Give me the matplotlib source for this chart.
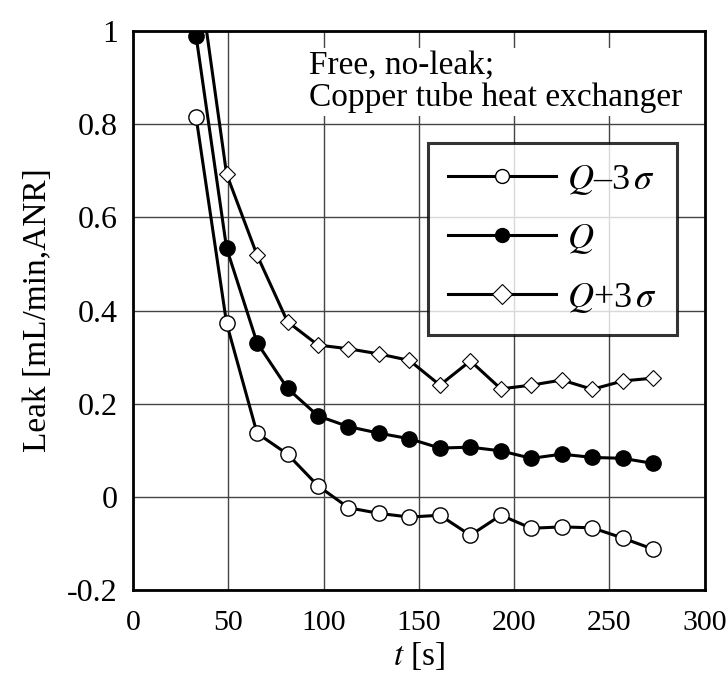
import numpy as np
import matplotlib
matplotlib.use('Agg')
from matplotlib import pyplot as plt

plt.rcParams['font.family'] = ['Liberation Serif', 'DejaVu Serif']
plt.rcParams['mathtext.fontset'] = 'stix'

# Tempo di misura [s] e perdite [mL/min,ANR]
t = [33, 49, 65, 81, 97, 113, 129, 145, 161, 177, 193, 209, 225, 241, 257, 273]
q_minus = [0.815, 0.373, 0.137, 0.092, 0.024, -0.023, -0.035, -0.043, -0.039, -0.082,
           -0.039, -0.067, -0.064, -0.066, -0.088, -0.112]
q_mean = [0.989, 0.534, 0.331, 0.233, 0.174, 0.151, 0.137, 0.125, 0.105, 0.107,
          0.099, 0.083, 0.092, 0.085, 0.083, 0.072]
q_plus = [1.16, 0.693, 0.519, 0.376, 0.326, 0.318, 0.307, 0.293, 0.240, 0.292,
          0.232, 0.240, 0.251, 0.231, 0.249, 0.255]

fig = plt.figure(figsize=(7.28, 6.84), dpi=100)
ax = fig.add_axes([0.183, 0.137, 0.785, 0.818])

ax.plot(t, q_minus, '-o', color='black', lw=2.2, ms=11, mfc='white', mec='black', mew=1,
        label=r'$Q$–3$\,\sigma$')
ax.plot(t, q_mean, '-o', color='black', lw=2.2, ms=11, mfc='black', mec='black',
        label=r'$Q$')
ax.plot(t, q_plus, '-D', color='black', lw=2.2, ms=8.5, mfc='white', mec='black', mew=0.8,
        label=r'$Q$+3$\,\sigma$')

ax.set_xlim(0, 300)
ax.set_ylim(-0.2, 1)
ax.set_xticks(np.arange(0, 301, 50))
ax.set_yticks(np.arange(-0.2, 1.01, 0.2))
ax.set_yticklabels(['-0.2', '0', '0.2', '0.4', '0.6', '0.8', '1'])
ax.grid(True, color='#444444', lw=1)
ax.set_axisbelow(True)
ax.tick_params(direction='in', length=0)
ax.tick_params(axis='y', pad=11, labelsize=23)
ax.tick_params(axis='x', pad=14, labelsize=21.5)
for s in ax.spines.values():
    s.set_linewidth(2)

ax.set_xlabel(r'$t$ [s]', fontsize=24, labelpad=3)
ax.set_ylabel('Leak [mL/min,ANR]', fontsize=24, labelpad=10)

ax.text(0.308, 0.965, 'Free, no-leak;\nCopper tube heat exchanger', transform=ax.transAxes,
        fontsize=24, va='top', ha='left', linespacing=1.05,
        bbox=dict(facecolor='white', edgecolor='none', pad=2))

leg = ax.legend(loc='upper right', bbox_to_anchor=(0.951, 0.8), fontsize=26,
                frameon=True, fancybox=False, handlelength=3.0, borderpad=0.55,
                labelspacing=0.7, handletextpad=0.3, borderaxespad=0)
leg.get_frame().set_edgecolor('black')
leg.get_frame().set_linewidth(2.2)
for h in leg.get_lines():
    h.set_linewidth(2.2)
    h.set_markersize(10)

fig.savefig('out.png', dpi=100)
